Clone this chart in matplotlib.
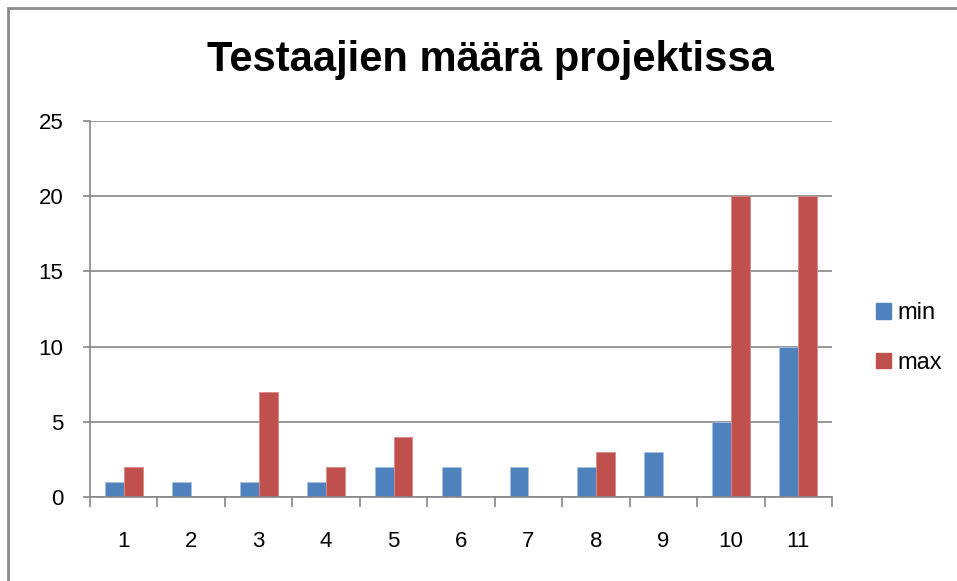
import matplotlib
matplotlib.use("Agg")
import matplotlib.pyplot as plt
from matplotlib.patches import Rectangle, Patch
import numpy as np

categories = ["1", "2", "3", "4", "5", "6", "7", "8", "9", "10", "11"]
min_vals = [1, 1, 1, 1, 2, 2, 2, 2, 3, 5, 10]
max_vals = [2, 0, 7, 2, 4, 0, 0, 3, 0, 20, 20]
yticks = [0, 5, 10, 15, 20, 25]

fam = ["Liberation Sans Narrow", "Liberation Sans", "DejaVu Sans"]
plt.rcParams["font.family"] = fam

W, H = 957, 581
fig = plt.figure(figsize=(W / 100, H / 100), dpi=100)
fig.patch.set_facecolor("white")

# outer chart border
fig.add_artist(Rectangle((8 / W, -0.05), 1.0, 1 - 8 / H + 0.05, transform=fig.transFigure,
                         fill=False, edgecolor="#8c8c8c", linewidth=2))

ax = fig.add_axes([90 / W, 1 - 497 / H, (832 - 90) / W, (497 - 121) / H])
x = np.arange(len(categories))
bw = 0.28
ax.bar(x - bw / 2, min_vals, bw, color="#4F81BD", label="min", edgecolor="#a8c0e0", linewidth=0.6)
ax.bar(x + bw / 2, max_vals, bw, color="#C0504D", label="max", edgecolor="#d88a88", linewidth=0.6)

ax.set_xlim(-0.5, len(categories) - 0.5)
ax.set_ylim(0, 25)
ax.set_yticks(yticks)
ax.set_yticklabels([str(v) for v in yticks])
ax.set_xticks(x)
ax.set_xticklabels(categories)
ax.set_xticks(np.arange(len(categories) + 1) - 0.5, minor=True)
ax.tick_params(axis="x", which="major", length=0, pad=32, labelsize=16)
ax.tick_params(axis="x", which="minor", length=7, width=1.2, color="#868686")
ax.tick_params(axis="y", length=5, width=1.2, color="#868686", labelsize=16, pad=14)
for lbl in ax.get_xticklabels():
    lbl.set_verticalalignment("center")
ax.yaxis.grid(True, color="#868686", linewidth=1.2)
ax.set_axisbelow(True)
for s in ["top", "right"]:
    ax.spines[s].set_visible(False)
for s in ["left", "bottom"]:
    ax.spines[s].set_color("#868686")
    ax.spines[s].set_linewidth(1.2)

fig.text(490 / W, 1 - 60 / H, "Testaajien määrä projektissa", ha="center", va="center",
         fontsize=30, fontweight="bold")

handles = [Patch(color="#4F81BD"), Patch(color="#C0504D")]
fig.legend(handles, ["min", "max"], loc="center left", bbox_to_anchor=(876 / W, 1 - 338 / H),
           frameon=False, fontsize=17, handlelength=0.62, handleheight=0.62,
           handletextpad=0.3, labelspacing=1.15, borderpad=0, borderaxespad=0)

fig.savefig("out.png", dpi=100)
